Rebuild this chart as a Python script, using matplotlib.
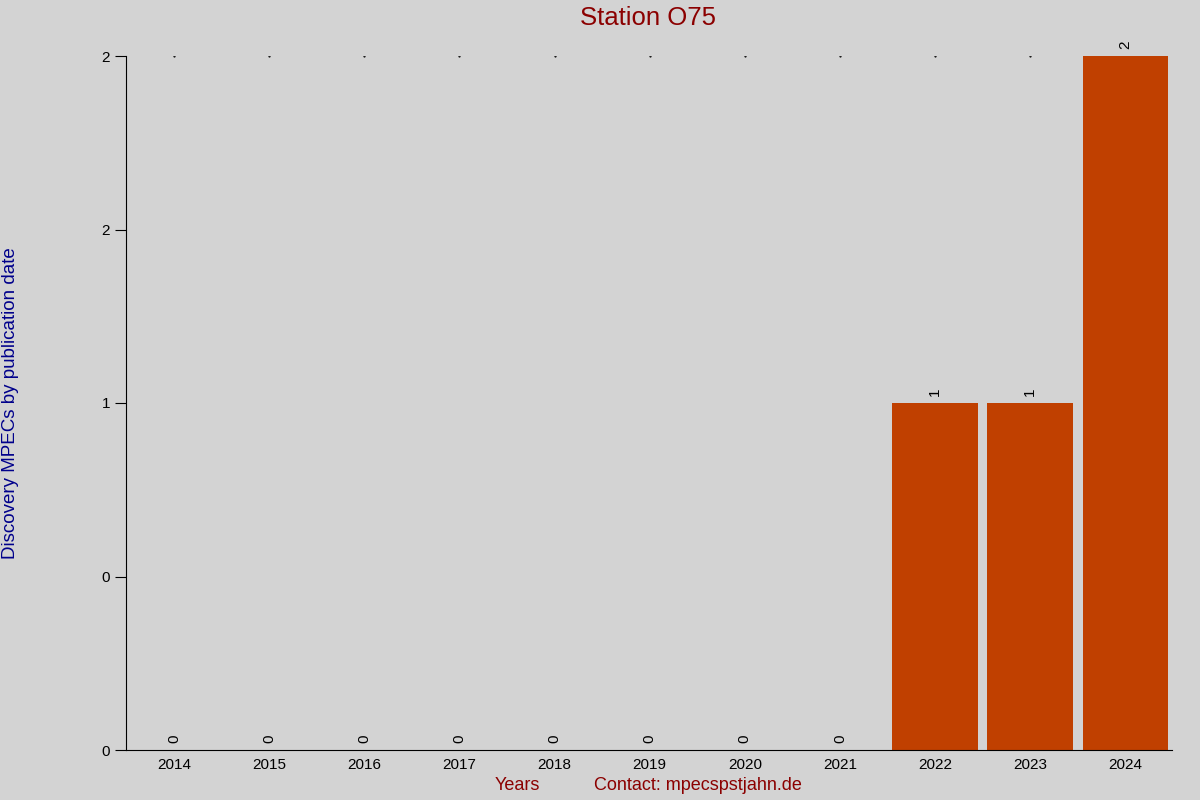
import matplotlib
matplotlib.use("Agg")
import matplotlib.pyplot as plt
from matplotlib.ticker import FuncFormatter

years = [2014, 2015, 2016, 2017, 2018, 2019, 2020, 2021, 2022, 2023, 2024]
counts = [0, 0, 0, 0, 0, 0, 0, 0, 1, 1, 2]

plt.rcParams['font.family'] = ['Liberation Sans', 'DejaVu Sans']
bg = '#d3d3d3'

fig = plt.figure(figsize=(12, 8), dpi=100, facecolor=bg)
ax = fig.add_axes([0.105, 0.0625, 0.8717, 0.8675], facecolor=bg)

x = list(range(len(years)))
ax.bar(x, counts, width=0.9, color='#c04000', zorder=2)
# tiny dots along the top of the plot
ax.scatter(x, [max(counts)] * len(x), s=0.3, color='black', zorder=1)

for xi, c in zip(x, counts):
    ax.text(xi, c + 0.02, str(c), rotation=90, ha='center', va='bottom', fontsize=11)

ax.set_xlim(-0.505, len(years) - 0.51)
ax.set_ylim(0, 2)
ax.set_xticks(x)
ax.set_xticklabels([str(y) for y in years])
ax.set_yticks([0, 0.5, 1, 1.5, 2])
ax.yaxis.set_major_formatter(FuncFormatter(lambda v, p: '%.0f' % v))
ax.tick_params(axis='x', length=0, labelsize=11, pad=6)
ax.tick_params(axis='y', length=8, labelsize=11)
for s in ['top', 'right']:
    ax.spines[s].set_visible(False)

fig.text(0.54, 0.9775, 'Station O75', color='#8b0000', fontsize=18.5, ha='center', va='center')
fig.text(0.009, 0.496, 'Discovery MPECs by publication date', color='#00008b', fontsize=13.5,
         rotation=90, ha='center', va='center')
fig.text(0.431, 0.0175, 'Years', color='#8b0000', fontsize=13, ha='center', va='center')
fig.text(0.582, 0.0175, 'Contact: mpecspstjahn.de', color='#8b0000', fontsize=13, ha='center', va='center')

fig.savefig('out.png', dpi=100, facecolor=bg)
